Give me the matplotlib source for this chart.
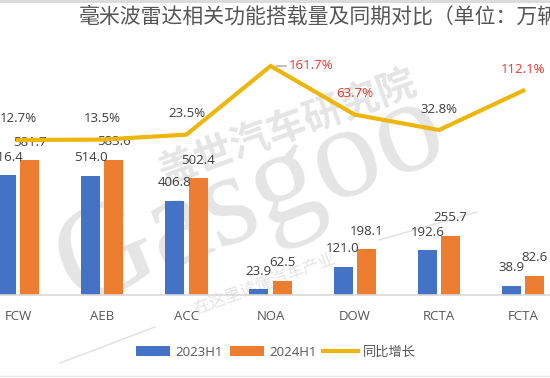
import matplotlib
matplotlib.use('Agg')
import matplotlib.pyplot as plt
from matplotlib.lines import Line2D
from matplotlib.patches import Patch

categories = ['FCW', 'AEB', 'ACC', 'NOA', 'DOW', 'RCTA', 'FCTA']
vals_2023 = [516.4, 514.0, 406.8, 23.9, 121.0, 192.6, 38.9]
vals_2024 = [581.7, 583.6, 502.4, 62.5, 198.1, 255.7, 82.6]
growth = [12.7, 13.5, 23.5, 161.7, 63.7, 32.8, 112.1]
highlight = [False, False, False, True, True, False, True]
series_names = ['2023H1', '2024H1', '同比增长']
title = '毫米波雷达相关功能搭载量及同期对比（单位：万辆）'

plt.rcParams['font.family'] = ['Open Sans', 'Noto Sans CJK SC', 'DejaVu Sans']

W, H = 550, 378
PT = 72 / 100.0  # points per pixel at dpi 100
fig = plt.figure(figsize=(W / 100, H / 100), dpi=100)


def fx(px):
    return px / W


def fy(py):
    return 1 - py / H


BLUE = '#4472C4'
ORANGE = '#ED7D31'
GOLD = '#EDB60C'
RED = '#E8382E'
TXT = '#3d3d3d'
GREY = '#555555'

# watermark (behind the chart)
wm = dict(color='#9a9a9a', alpha=0.26, ha='center', va='center', rotation_mode='anchor', zorder=-5)
fig.text(fx(251), fy(200), 'Gasgoo', fontsize=96, family=['Liberation Serif'], rotation=22, **wm)
fig.text(fx(287), fy(127), '盖世汽车研究院', fontsize=28, fontweight='bold',
         family=['Noto Sans CJK SC'], rotation=20, **wm)
fig.text(fx(265), fy(284), '在这里读懂汽车产业', fontsize=12, family=['Noto Sans CJK SC'], rotation=20, **wm)
for (a, b) in [((60, 363), (155, 327)), ((379, 240), (477, 212))]:
    fig.add_artist(Line2D([fx(a[0]), fx(b[0])], [fy(a[1]), fy(b[1])], color='#9a9a9a',
                          alpha=0.3, lw=1, zorder=-5))

base_px, top_px = 295, 40
ax = fig.add_axes([0, fy(base_px), 1, (base_px - top_px) / H])
ax.patch.set_visible(False)
x0, step = 18.0, 84.2
ax.set_xlim(-x0 / step, (W - x0) / step)
ax.set_ylim(0, (base_px - top_px) / 0.232)

xs = list(range(len(categories)))
bw, off = 0.225, 0.139
ax.bar([x - off for x in xs], vals_2023, width=bw, color=BLUE, zorder=2)
ax.bar([x + off for x in xs], vals_2024, width=bw, color=ORANGE, zorder=2)
for x, v in zip(xs, vals_2023):
    ax.annotate(f'{v:.1f}', xy=(x - off, v), xytext=(0, 18 * PT), textcoords='offset points',
                ha='center', va='center', fontsize=9.5, color=TXT, zorder=3)
for x, v in zip(xs, vals_2024):
    ax.annotate(f'{v:.1f}', xy=(x + off, v), xytext=(0, 18 * PT), textcoords='offset points',
                ha='center', va='center', fontsize=9.5, color=TXT, zorder=3)

ax.set_xticks(xs)
ax.set_xticklabels(categories, fontsize=9.5, color=GREY)
ax.tick_params(axis='x', length=0, pad=11)
ax.set_yticks([])
for s in ['top', 'left', 'right']:
    ax.spines[s].set_visible(False)
ax.spines['bottom'].set_color('#d9d9d9')
ax.spines['bottom'].set_linewidth(1.2)

ax2 = ax.twinx()
ax2.patch.set_visible(False)
zero_px, slope = 146.3, 0.4966
ax2.set_ylim((zero_px - base_px) / slope, (zero_px - top_px) / slope)
ax2.plot(xs, growth, color=GOLD, lw=3, zorder=4, solid_joinstyle='miter')
ax2.set_yticks([])
for s in ax2.spines.values():
    s.set_visible(False)
for x, g, hl in zip(xs, growth, highlight):
    c = RED if hl else TXT
    if g == max(growth):
        ax2.annotate(f'{g:.1f}%', xy=(x, g), xytext=(41 * PT, 0), textcoords='offset points',
                     ha='center', va='center', fontsize=9.5, color=c,
                     arrowprops=dict(arrowstyle='-', color='#a6a6a6', lw=1, shrinkA=20, shrinkB=4))
    else:
        ax2.annotate(f'{g:.1f}%', xy=(x, g), xytext=(0, 21 * PT), textcoords='offset points',
                     ha='center', va='center', fontsize=9.5, color=c)

fig.text(fx(79), fy(17), title, fontsize=15, color=GREY, ha='left', va='center',
         family=['Noto Sans CJK SC'])

handles = [Patch(facecolor=BLUE), Patch(facecolor=ORANGE), Line2D([], [], color=GOLD, lw=3)]
leg = fig.legend(handles, series_names, loc='center', bbox_to_anchor=(fx(276), fy(352)), ncol=3,
                 frameon=False, handlelength=2.6, handleheight=0.8, handletextpad=0.4,
                 columnspacing=0.5, fontsize=9.5)
for t in leg.get_texts():
    t.set_color(GREY)

# frame lines of the cropped picture
fig.add_artist(Line2D([0, 1], [fy(1), fy(1)], color='#d9d9d9', lw=2))
fig.add_artist(Line2D([0, 1], [fy(375.5), fy(375.5)], color='#e6e6e6', lw=1))

fig.savefig('out.png', dpi=100)
